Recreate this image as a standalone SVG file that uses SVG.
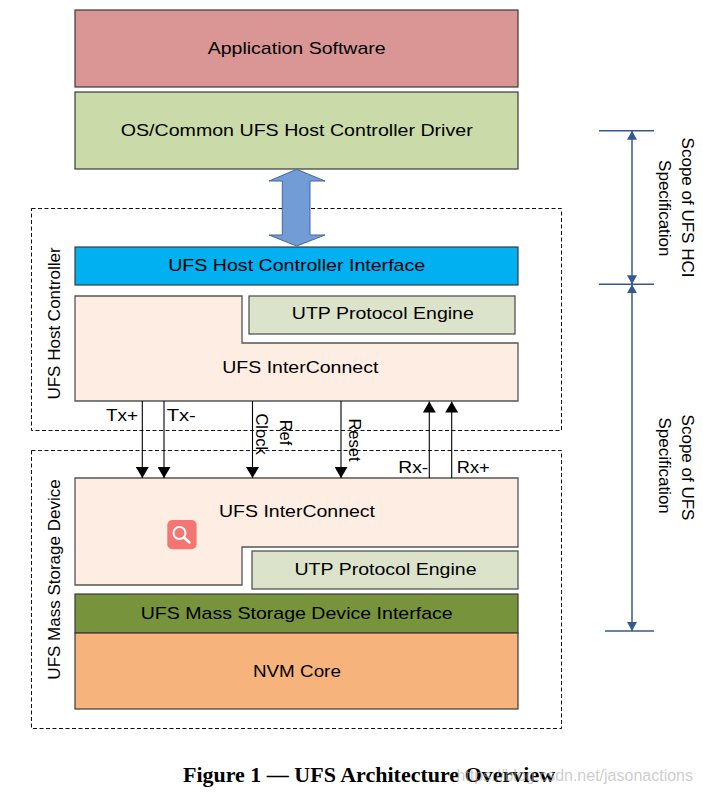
<svg xmlns="http://www.w3.org/2000/svg" width="703" height="793" viewBox="0 0 703 793">
<style>
.t{font-family:"Liberation Sans",Arial,sans-serif;font-size:17px;fill:#000}
.v{font-family:"Liberation Sans",Arial,sans-serif;font-size:17px;fill:#000}
.box{stroke:#3a3a3a;stroke-width:1.2}
.ic{fill:#FDEDE2;stroke:#555;stroke-width:1.3}
.utp{fill:#DCE3CB;stroke:#555;stroke-width:1.3}
.dash{fill:none;stroke:#111;stroke-width:1;stroke-dasharray:4 2.5}
.sig{stroke:#000;stroke-width:1.1;fill:none}
.scope{stroke:#35598F;stroke-width:1.5;fill:none}
</style>
<defs>
<marker id="ah" viewBox="0 0 11 13" refX="11" refY="6.5" markerWidth="11" markerHeight="13" markerUnits="userSpaceOnUse" orient="auto">
<path d="M0,0 L11,6.5 L0,13 Z" fill="#000"/>
</marker>
<marker id="sh" viewBox="0 0 9 10" refX="9" refY="5" markerWidth="9" markerHeight="10" markerUnits="userSpaceOnUse" orient="auto-start-reverse">
<path d="M0,0 L9,5 L0,10 Z" fill="#35598F"/>
</marker>
</defs>
<rect width="703" height="793" fill="#fff"/>

<g id="host-controller-frame">
<rect class="dash" x="31.5" y="208.5" width="530" height="222"/>
<text class="v" transform="translate(60,323.5) rotate(-90)" text-anchor="middle">UFS Host Controller</text>
</g>
<g id="mass-storage-frame">
<rect class="dash" x="31.5" y="450.5" width="530" height="278"/>
<text class="v" transform="translate(60,579.5) rotate(-90)" text-anchor="middle">UFS Mass Storage Device</text>
</g>

<g id="app-software">
<rect class="box" x="75" y="10" width="443" height="77" fill="#D99694"/>
<text class="t" x="296.7" y="54" text-anchor="middle" textLength="178" lengthAdjust="spacingAndGlyphs">Application Software</text>
</g>
<g id="host-driver">
<rect class="box" x="75" y="92" width="443" height="77" fill="#CADAA9"/>
<text class="t" x="296.7" y="136" text-anchor="middle" textLength="352" lengthAdjust="spacingAndGlyphs">OS/Common UFS Host Controller Driver</text>
</g>
<g id="hci">
<rect class="box" x="75" y="247" width="443" height="38" fill="#00B0F0"/>
<text class="t" x="296.7" y="271" text-anchor="middle" textLength="257" lengthAdjust="spacingAndGlyphs">UFS Host Controller Interface</text>
</g>
<g id="host-interconnect">
<polygon class="ic" points="75,296 242,296 242,343 518,343 518,401 75,401"/>
<text class="t" x="300.3" y="372.7" text-anchor="middle" textLength="156" lengthAdjust="spacingAndGlyphs">UFS InterConnect</text>
</g>
<g id="host-utp">
<rect class="utp" x="249" y="296" width="266" height="38"/>
<text class="t" x="382.8" y="319.3" text-anchor="middle" textLength="182" lengthAdjust="spacingAndGlyphs">UTP Protocol Engine</text>
</g>

<g id="dev-interconnect">
<polygon class="ic" points="75,478 518,478 518,547 242,547 242,585 75,585"/>
<text class="t" x="297" y="517.3" text-anchor="middle" textLength="156" lengthAdjust="spacingAndGlyphs">UFS InterConnect</text>
<rect x="167.3" y="520" width="29.3" height="29.3" rx="5" fill="#F47672"/>
<circle cx="179.5" cy="533" r="6" fill="none" stroke="#fff" stroke-width="2"/>
<line x1="184" y1="537.5" x2="189.5" y2="542.5" stroke="#fff" stroke-width="2.5" stroke-linecap="round"/>
</g>
<g id="dev-utp">
<rect class="utp" x="252" y="551" width="266" height="38"/>
<text class="t" x="385.5" y="575" text-anchor="middle" textLength="182" lengthAdjust="spacingAndGlyphs">UTP Protocol Engine</text>
</g>
<g id="msd-interface">
<rect class="box" x="75" y="594" width="443" height="39" fill="#77933C"/>
<text class="t" x="296.7" y="619.3" text-anchor="middle" textLength="312" lengthAdjust="spacingAndGlyphs">UFS Mass Storage Device Interface</text>
</g>
<g id="nvm-core">
<rect class="box" x="75" y="633" width="443" height="76" fill="#F7B37C"/>
<text class="t" x="296.9" y="676.7" text-anchor="middle" textLength="88" lengthAdjust="spacingAndGlyphs">NVM Core</text>
</g>

<g id="connectors">
<polygon points="296.7,169.3 325,181 310,181 310,235 325,235 296.7,246 269,235 282.3,235 282.3,181 269,181" fill="#719CD6" stroke="#46679A" stroke-width="1"/>
<line class="sig" x1="142.3" y1="401" x2="142.3" y2="478" marker-end="url(#ah)"/>
<line class="sig" x1="164" y1="401" x2="164" y2="478" marker-end="url(#ah)"/>
<line class="sig" x1="252.5" y1="401" x2="252.5" y2="478" marker-end="url(#ah)"/>
<line class="sig" x1="341" y1="401" x2="341" y2="478" marker-end="url(#ah)"/>
<line class="sig" x1="429.3" y1="478" x2="429.3" y2="401.5" marker-end="url(#ah)"/>
<line class="sig" x1="451.7" y1="478" x2="451.7" y2="401.5" marker-end="url(#ah)"/>
<text class="t" x="106" y="420.7" textLength="32" lengthAdjust="spacingAndGlyphs">Tx+</text>
<text class="t" x="166.7" y="420.7" textLength="29" lengthAdjust="spacingAndGlyphs">Tx-</text>
<text class="t" style="font-size:16.5px" transform="translate(280,432.5) rotate(90)" text-anchor="middle">Ref</text>
<text class="t" style="font-size:16.5px" transform="translate(256,434) rotate(90)" text-anchor="middle">Clock</text>
<text class="t" style="font-size:16.5px" transform="translate(349.3,440) rotate(90)" text-anchor="middle">Reset</text>
<text class="t" x="398.3" y="473.3" textLength="30" lengthAdjust="spacingAndGlyphs">Rx-</text>
<text class="t" x="456.7" y="473.3" textLength="33" lengthAdjust="spacingAndGlyphs">Rx+</text>
</g>

<g id="scope">
<line class="scope" x1="599" y1="130.7" x2="654" y2="130.7"/>
<line class="scope" x1="599" y1="284.3" x2="654" y2="284.3"/>
<line class="scope" x1="605" y1="631" x2="654" y2="631"/>
<line class="scope" x1="632" y1="130.7" x2="632" y2="284.3" marker-start="url(#sh)" marker-end="url(#sh)"/>
<line class="scope" x1="632" y1="284.3" x2="632" y2="631" marker-start="url(#sh)" marker-end="url(#sh)"/>
<text class="v" transform="translate(682,207.5) rotate(90)" text-anchor="middle">Scope of UFS HCI</text>
<text class="v" transform="translate(659,208.3) rotate(90)" text-anchor="middle">Specification</text>
<text class="v" transform="translate(682,467.5) rotate(90)" text-anchor="middle">Scope of UFS</text>
<text class="v" transform="translate(659,465.6) rotate(90)" text-anchor="middle">Specification</text>
</g>

<text x="369" y="781.5" text-anchor="middle" font-family="Liberation Serif,Times New Roman,serif" font-weight="bold" font-size="22" fill="#000">Figure 1 — UFS Architecture Overview</text>
<text x="693" y="781" text-anchor="end" font-family="Liberation Sans,Arial,sans-serif" font-size="16" fill="#aaaaaa" fill-opacity="0.6">https://blog.csdn.net/jasonactions</text>
</svg>
